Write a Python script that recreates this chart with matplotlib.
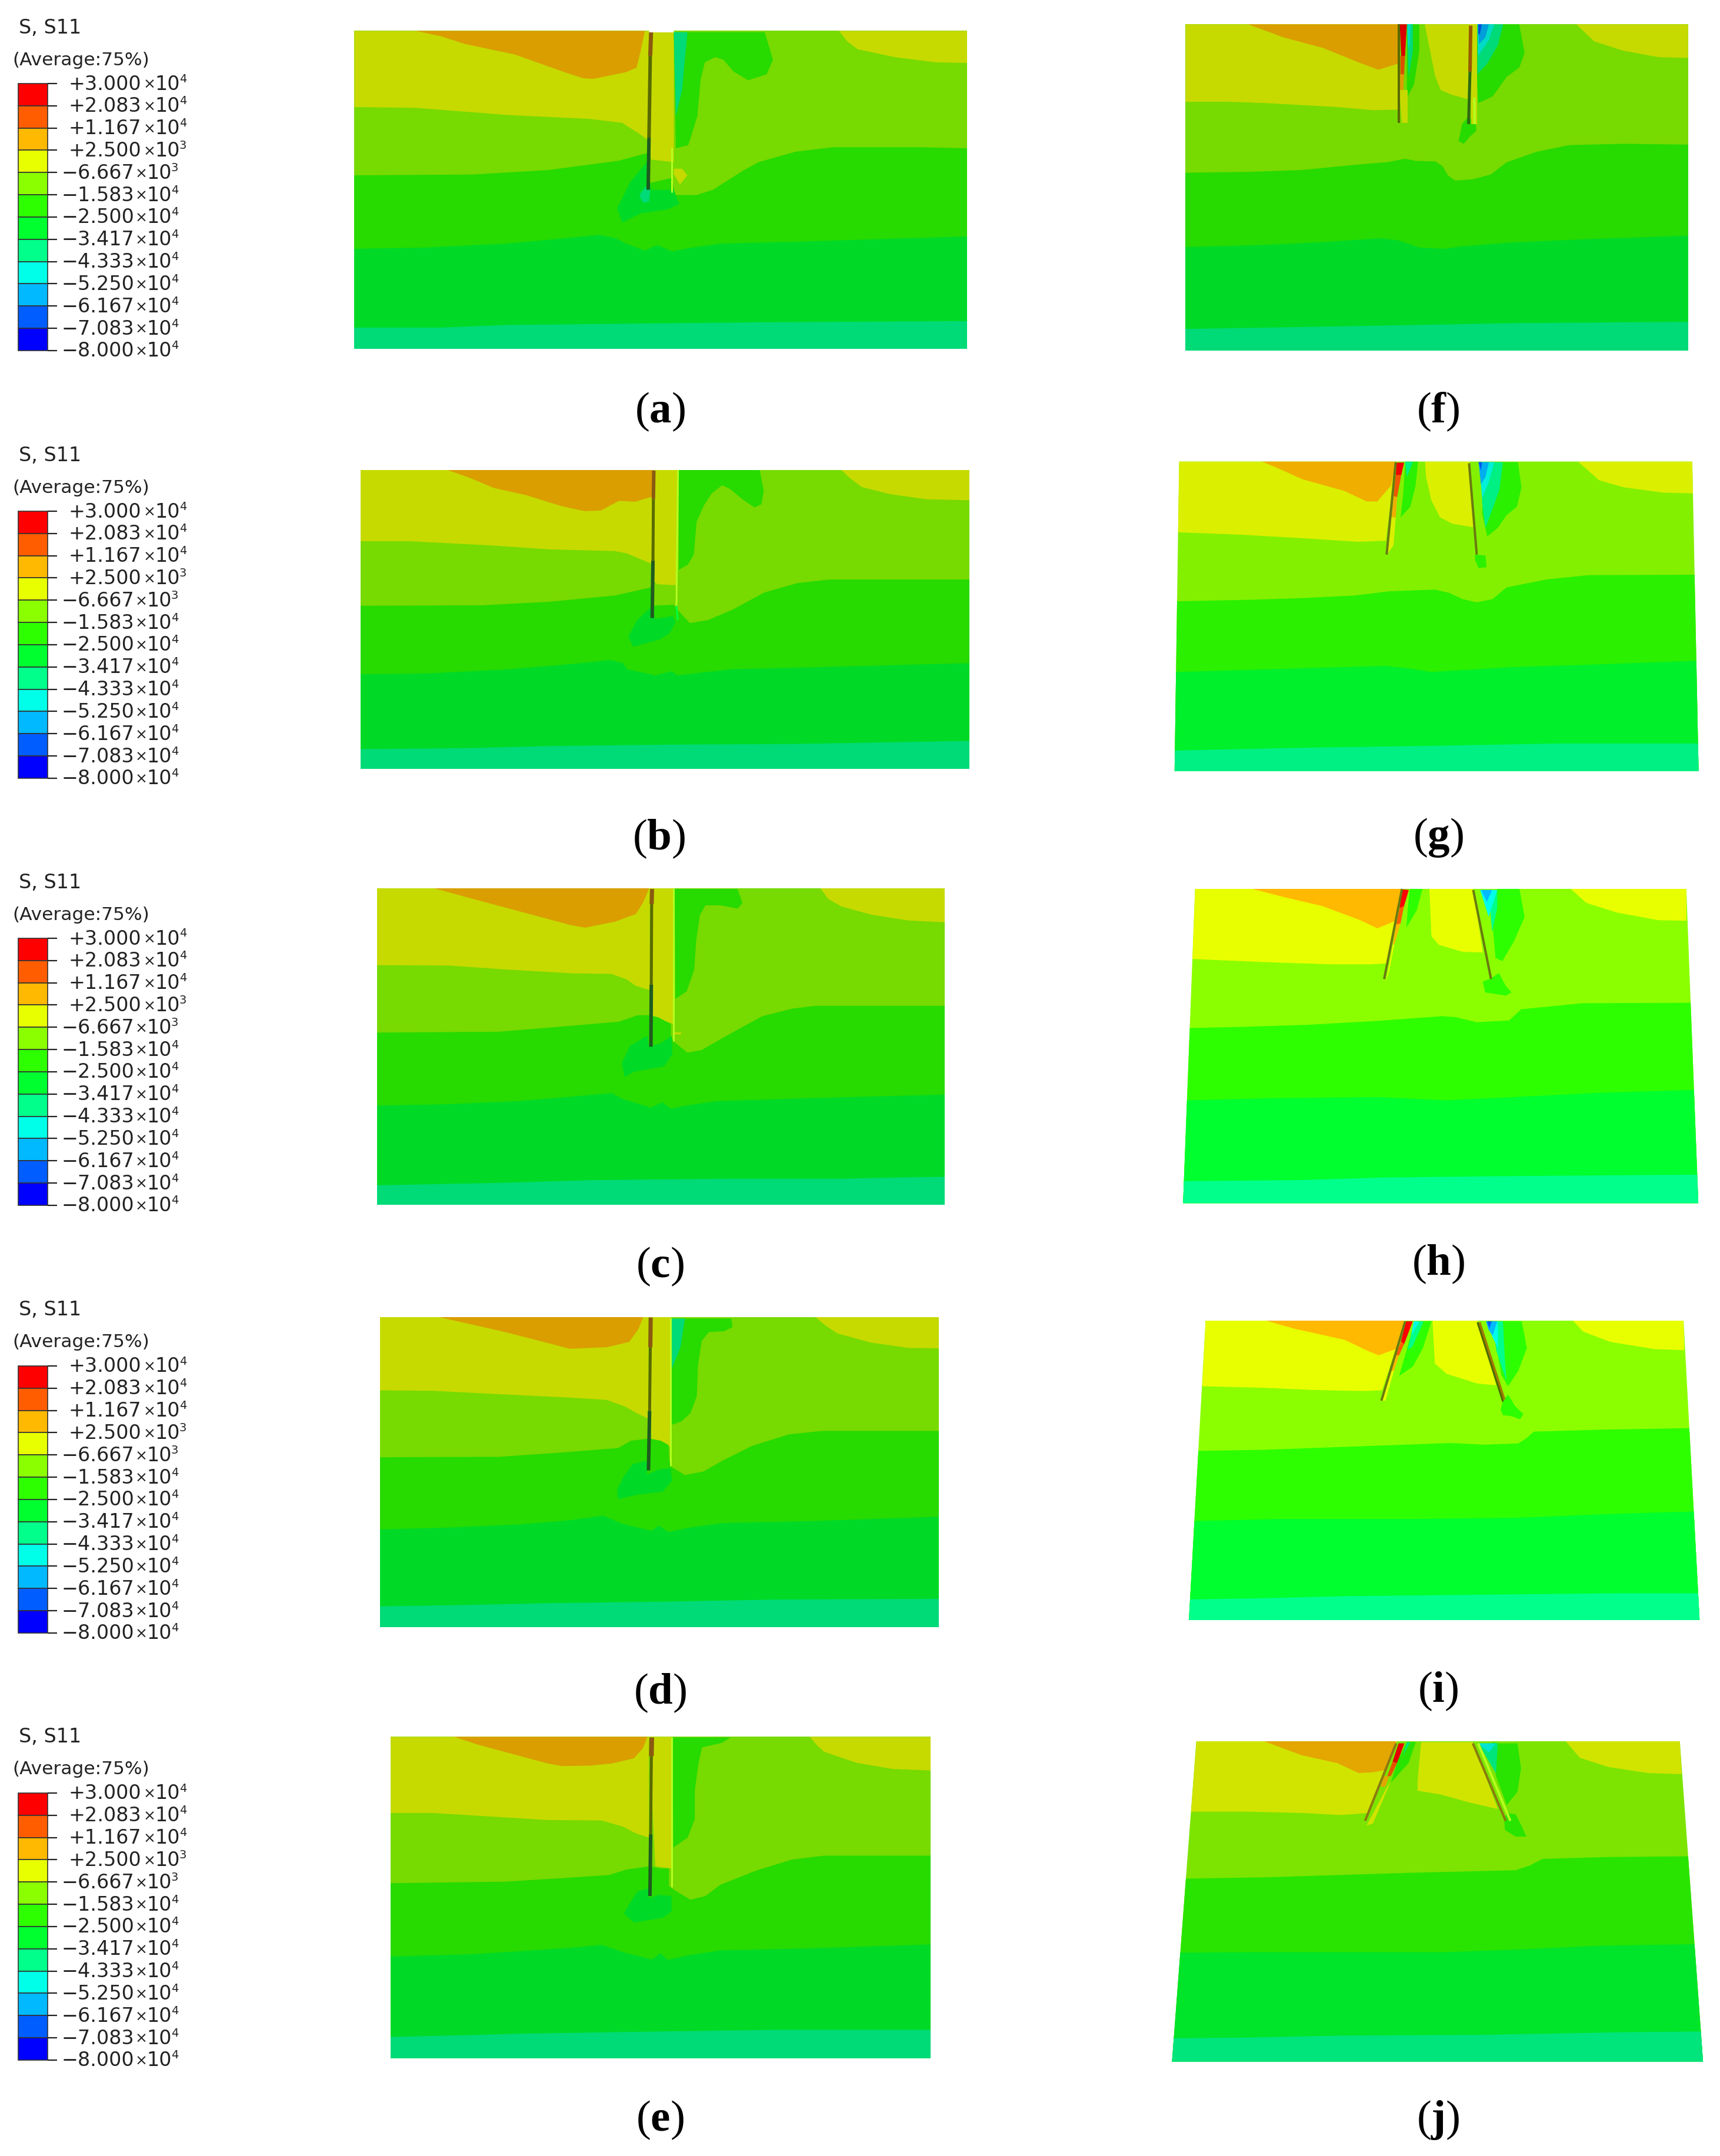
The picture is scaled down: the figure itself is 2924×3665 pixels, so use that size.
import numpy as np
import matplotlib
matplotlib.use("Agg")
import matplotlib.pyplot as plt
from matplotlib.patches import Polygon, Rectangle

plt.rcParams['mathtext.fontset'] = 'custom'
plt.rcParams['mathtext.rm'] = 'Liberation Serif'
plt.rcParams['mathtext.bf'] = 'Liberation Serif:bold'

# contour legend
LEVEL_RGB = ["#ff0000", "#ff5d00", "#ffb900", "#e8ff00", "#8bff00", "#2eff00",
             "#00ff2e", "#00ff8b", "#00ffe8", "#00b9ff", "#005dff", "#0000ff"]
LEGEND_MANT = ["+3.000", "+2.083", "+1.167", "+2.500", "\u22126.667", "\u22121.583", "\u22122.500",
               "\u22123.417", "\u22124.333", "\u22125.250", "\u22126.167", "\u22127.083", "\u22128.000"]
LEGEND_EXP = [4, 4, 4, 3, 3, 4, 4, 4, 4, 4, 4, 4, 4]
LEGEND_DY = [0, 727, 1453, 2180, 2906]

CAPTIONS = ["a", "b", "c", "d", "e", "f", "g", "h", "i", "j"]
CAPTION_X = [1122, 1120, 1122, 1122, 1122, 2445, 2445, 2445, 2445, 2445]
CAPTION_Y = [700, 1426, 2153, 2878, 3604, 700, 1424, 2149, 2875, 3604]
SHADE = [0.855, 0.855, 0.855, 0.855, 0.855, 0.855, 0.94, 1.0, 1.0, 0.895]

# contour shapes: every crop is read on a 1566 x 1568 grid
a_view = (580, 20, 1100, 700)
a_outline = [(32, 75), (1515, 75), (1515, 1285), (32, 1285)]
a_b2 = [(32, 625), (320, 622), (500, 605), (670, 570), (742, 540), (745, 655), (800, 635), (808, 700), (860, 700),
        (900, 680), (975, 605), (1010, 575), (1100, 535), (1190, 518), (1400, 518), (1515, 522)]
a_b3 = [(32, 905), (200, 900), (400, 885), (540, 865), (625, 852), (665, 865), (690, 885), (735, 912), (765, 890),
        (800, 915), (850, 900), (920, 885), (1100, 878), (1300, 868), (1515, 858)]
a_b4 = [(32, 1205), (240, 1205), (400, 1195), (700, 1190), (1000, 1185), (1515, 1180)]
a_under = [
    (3, [(32, 75), (745, 75), (742, 490), (720, 465), (680, 425), (600, 410), (400, 395), (180, 368), (32, 365)]),
    (3, [(745, 80), (805, 80), (805, 575), (750, 565), (745, 490)]),
    (2, [(180, 75), (735, 75), (725, 150), (715, 215), (690, 232), (610, 258), (585, 255), (540, 232), (420, 165),
         (300, 125), (240, 95)]),
    (3, [(1205, 75), (1515, 75), (1515, 197), (1440, 195), (1340, 175), (1250, 145), (1225, 115)]),
]
a_over = [
    (5, [(805, 80), (1025, 80), (1045, 185), (1030, 240), (985, 263), (950, 230), (925, 185), (905, 175), (880, 195),
         (870, 260), (862, 400), (840, 510), (810, 522)]),
    (7, [(805, 80), (838, 80), (825, 300), (810, 400)]),
    (6, [(742, 570), (700, 650), (668, 750), (680, 805), (725, 770), (790, 755), (818, 735), (805, 680), (750, 680)]),
    (7, [(735, 670), (748, 680), (745, 725), (730, 730), (722, 700)]),
    (3, [(805, 600), (825, 600), (838, 625), (820, 660), (805, 620)]),
]
a_piles = [("#8a5a10", 7, [(750, 80), (748, 170)]), ("#5a6a00", 6, [(748, 170), (745, 480)]),
           ("#1f5a20", 6, [(745, 480), (743, 680)]), ("#b4ff20", 3, [(800, 520), (800, 690)]),
           ("#ffffff", 3, [(745, 77), (805, 77)])]

b_view = (592, 780, 1076, 546)
b_outline = [(30, 57), (1537, 57), (1537, 1517), (30, 1517)]
b_b2 = [(30, 720), (330, 718), (500, 700), (660, 670), (750, 630), (750, 720), (805, 715), (815, 740), (845, 805),
        (890, 790), (950, 740), (1030, 655), (1110, 610), (1190, 592), (1537, 592)]
b_b3 = [(30, 1055), (200, 1050), (400, 1030), (550, 1005), (650, 985), (680, 1000), (690, 1030), (760, 1060),
        (800, 1040), (815, 1060), (880, 1045), (950, 1030), (1200, 1018), (1537, 1000)]
b_b4 = [(30, 1420), (300, 1415), (500, 1405), (800, 1398), (1100, 1395), (1537, 1380)]
b_under = [
    (3, [(30, 57), (755, 57), (750, 515), (720, 490), (690, 465), (660, 453), (500, 445), (350, 425), (150, 405),
         (30, 405)]),
    (3, [(755, 57), (815, 57), (815, 620), (765, 615), (755, 600)]),
    (2, [(245, 57), (755, 57), (755, 185), (710, 212), (670, 208), (625, 255), (585, 258), (530, 235), (440, 180),
         (360, 145), (300, 95)]),
    (3, [(1220, 57), (1537, 57), (1537, 205), (1430, 200), (1340, 175), (1270, 140), (1240, 95)]),
]
b_over = [
    (5, [(818, 57), (1018, 57), (1028, 160), (1022, 225), (1005, 240), (975, 200), (945, 150), (925, 132), (900, 170),
         (880, 230), (862, 310), (855, 470), (840, 520), (818, 545)]),
    (6, [(750, 725), (715, 790), (693, 870), (705, 920), (770, 885), (795, 855), (810, 800), (803, 770), (760, 785)]),
]
b_piles = [("#8a5a10", 6, [(756, 60), (755, 200)]), ("#5a6a00", 5, [(755, 200), (754, 500)]),
           ("#1f5a20", 6, [(754, 500), (752, 780)]), ("#b4ff20", 3, [(816, 57), (812, 720)]),
           ("#00ff40", 3, [(812, 720), (815, 790)])]

c_view = (623, 1490, 1003, 580)
c_outline = [(28, 57), (1535, 57), (1535, 1512), (28, 1512)]
c_b2 = [(28, 720), (350, 716), (500, 695), (670, 670), (720, 640), (752, 640), (775, 650), (808, 680), (808, 735),
        (815, 760), (852, 812), (890, 800), (950, 740), (1050, 645), (1130, 610), (1190, 597), (1535, 597)]
c_b3 = [(28, 1055), (200, 1050), (400, 1035), (540, 1015), (650, 998), (680, 1025), (755, 1065), (785, 1040),
        (808, 1070), (850, 1055), (930, 1035), (1200, 1020), (1535, 1005)]
c_b4 = [(28, 1422), (370, 1410), (600, 1398), (950, 1392), (1250, 1392), (1440, 1385), (1535, 1383)]
c_under = [
    (3, [(28, 57), (752, 57), (752, 525), (715, 505), (690, 475), (650, 450), (550, 448), (370, 430), (220, 412),
         (28, 410)]),
    (3, [(752, 57), (815, 57), (815, 680), (760, 650)]),
    (2, [(180, 57), (750, 57), (735, 120), (715, 175), (660, 210), (580, 238), (540, 225), (400, 160), (260, 95)]),
    (3, [(1205, 57), (1535, 57), (1535, 213), (1440, 205), (1340, 178), (1260, 140), (1225, 105)]),
]
c_over = [
    (5, [(818, 60), (985, 60), (998, 125), (985, 150), (940, 135), (900, 135), (885, 180), (875, 300), (870, 430),
         (850, 530), (820, 565)]),
    (6, [(745, 735), (700, 780), (678, 860), (685, 925), (710, 900), (790, 875), (812, 820), (810, 735), (780, 770),
         (750, 785)]),
    (3, [(815, 718), (835, 720), (835, 728), (815, 728)]),
]
c_piles = [("#8a5a10", 7, [(758, 60), (757, 130)]), ("#5a6a00", 5, [(757, 130), (756, 500)]),
           ("#1f5a20", 6, [(756, 500), (755, 785)]), ("#b4ff20", 3, [(815, 57), (815, 760)])]

d_view = (627, 2219, 990, 566)
d_outline = [(30, 57), (1533, 57), (1533, 1517), (30, 1517)]
d_b2 = [(30, 718), (350, 716), (500, 698), (670, 675), (705, 640), (755, 630), (785, 640), (806, 660), (808, 735),
        (815, 765), (850, 802), (900, 785), (950, 735), (1030, 665), (1130, 610), (1220, 594), (1533, 594)]
d_b3 = [(30, 1058), (200, 1050), (400, 1035), (540, 1015), (630, 993), (680, 1030), (760, 1065), (780, 1040),
        (805, 1070), (860, 1050), (950, 1028), (1200, 1018), (1533, 998)]
d_b4 = [(30, 1420), (230, 1415), (500, 1405), (800, 1398), (1100, 1388), (1533, 1385)]
d_under = [
    (3, [(30, 57), (752, 57), (752, 537), (720, 510), (690, 480), (640, 448), (540, 437), (340, 420), (170, 405),
         (30, 403)]),
    (3, [(752, 57), (812, 57), (812, 670), (760, 640)]),
    (2, [(185, 57), (738, 57), (725, 115), (700, 175), (640, 200), (540, 207), (470, 175), (370, 130), (270, 90)]),
    (3, [(1200, 57), (1533, 57), (1533, 205), (1450, 203), (1350, 178), (1260, 135), (1230, 100)]),
]
d_over = [
    (5, [(812, 65), (975, 65), (978, 105), (955, 125), (915, 128), (895, 170), (885, 290), (882, 430), (865, 510),
         (840, 550), (815, 565)]),
    (7, [(812, 65), (850, 65), (838, 200), (815, 300)]),
    (6, [(748, 735), (710, 750), (685, 810), (668, 870), (670, 915), (720, 895), (790, 880), (815, 830), (812, 770),
         (780, 775), (748, 800)]),
]
d_piles = [("#8a5a10", 7, [(758, 60), (757, 200)]), ("#5a6a00", 5, [(757, 200), (755, 500)]),
           ("#1f5a20", 6, [(755, 500), (752, 780)]), ("#b4ff20", 3, [(812, 60), (812, 760)])]

e_view = (644, 2932, 956, 587)
e_outline = [(33, 57), (1537, 57), (1537, 1517), (33, 1517)]
e_b2 = [(33, 722), (350, 715), (500, 700), (640, 685), (690, 660), (755, 645), (785, 655), (808, 655), (808, 735),
        (825, 755), (868, 797), (910, 780), (950, 730), (1050, 665), (1150, 615), (1240, 597), (1537, 597)]
e_b3 = [(33, 1055), (250, 1045), (400, 1030), (540, 1015), (620, 1002), (680, 1035), (760, 1068), (785, 1040),
        (805, 1070), (860, 1050), (950, 1027), (1200, 1018), (1537, 1000)]
e_b4 = [(33, 1420), (250, 1412), (400, 1405), (800, 1395), (1100, 1388), (1537, 1388)]
e_under = [
    (3, [(33, 57), (752, 57), (752, 515), (715, 495), (680, 465), (620, 437), (470, 435), (300, 418), (150, 403),
         (33, 403)]),
    (3, [(752, 57), (815, 57), (815, 655), (770, 645)]),
    (2, [(210, 57), (748, 57), (735, 110), (710, 155), (650, 178), (590, 188), (510, 190), (470, 178), (360, 130),
         (270, 90)]),
    (3, [(1200, 57), (1537, 57), (1537, 210), (1430, 203), (1330, 175), (1240, 125), (1220, 95)]),
]
e_over = [
    (5, [(818, 60), (980, 60), (955, 85), (900, 105), (890, 180), (880, 300), (880, 430), (860, 515), (820, 560)]),
    (6, [(752, 745), (720, 760), (700, 810), (683, 860), (710, 900), (790, 880), (815, 850), (815, 780), (780, 775),
         (752, 790)]),
]
e_piles = [("#8a5a10", 8, [(760, 60), (759, 145)]), ("#5a6a00", 5, [(759, 145), (757, 500)]),
           ("#1f5a20", 6, [(757, 500), (755, 780)]), ("#b4ff20", 3, [(815, 60), (815, 740)])]

f_view = (1970, 20, 950, 700)
f_outline = [(75, 50), (1483, 50), (1483, 1293), (75, 1293)]
f_b2 = [(75, 615), (250, 612), (400, 605), (550, 585), (640, 575), (690, 562), (720, 570), (775, 572), (795, 590),
        (810, 625), (830, 645), (880, 640), (930, 622), (975, 575), (1060, 535), (1150, 510), (1300, 505), (1483, 508)]
f_b3 = [(75, 898), (300, 890), (450, 880), (620, 865), (670, 872), (730, 900), (800, 905), (850, 895), (1000, 880),
        (1200, 868), (1483, 855)]
f_b4 = [(75, 1210), (300, 1205), (600, 1198), (1000, 1188), (1483, 1183)]
f_under = [
    (3, [(75, 50), (670, 50), (670, 375), (600, 377), (500, 365), (300, 350), (200, 345), (75, 345)]),
    (2, [(250, 50), (670, 50), (670, 200), (615, 223), (560, 195), (460, 140), (350, 100)]),
    (3, [(745, 50), (870, 50), (866, 335), (820, 318), (790, 300), (775, 250), (760, 150)]),
    (3, [(1170, 50), (1483, 50), (1483, 178), (1400, 175), (1300, 150), (1220, 115)]),
]
f_over = [
    (5, [(695, 50), (730, 50), (730, 150), (715, 280), (695, 330)]),
    (7, [(695, 50), (712, 50), (712, 150), (700, 250)]),
    (8, [(697, 50), (706, 50), (703, 130), (699, 140)]),
    (0, [(675, 50), (695, 50), (690, 170), (680, 190)]),
    (1, [(677, 170), (690, 170), (687, 250), (677, 300)]),
    (2, [(675, 240), (687, 240), (685, 310), (675, 320)]),
    (3, [(675, 300), (697, 300), (697, 425), (680, 425)]),
    (5, [(890, 50), (1010, 50), (1025, 160), (1010, 215), (975, 250), (935, 325), (895, 350), (890, 200)]),
    (7, [(893, 50), (965, 50), (950, 130), (920, 200), (893, 240)]),
    (8, [(893, 50), (940, 50), (925, 110), (895, 170)]),
    (9, [(895, 50), (925, 50), (915, 100), (897, 125)]),
    (10, [(895, 50), (905, 50), (900, 85), (895, 90)]),
    (5, [(868, 400), (850, 430), (840, 495), (855, 505), (870, 480), (890, 455), (888, 430)]),
    (3, [(870, 50), (892, 50), (892, 430), (875, 430)]),
]
f_piles = [("#5a6a00", 4, [(672, 50), (672, 425)]), ("#9a5a00", 6, [(874, 55), (872, 230)]),
           ("#2f6a10", 5, [(872, 230), (868, 430)]), ("#b4ff20", 4, [(884, 330), (885, 430)])]

g_view = (1976, 765, 930, 566)
g_outline = [(48, 57), (1517, 57), (1535, 1515), (35, 1515)]
g_b2 = [(44, 715), (250, 708), (400, 700), (550, 688), (650, 668), (780, 660), (820, 675), (860, 705), (900, 720),
        (945, 705), (985, 650), (1100, 612), (1220, 592), (1522, 590)]
g_b3 = [(40, 1048), (250, 1038), (450, 1028), (640, 1020), (700, 1030), (770, 1048), (850, 1040), (1000, 1025),
        (1200, 1015), (1528, 995)]
g_b4 = [(35, 1418), (200, 1412), (400, 1405), (800, 1395), (1130, 1385), (1530, 1385)]
g_under = [
    (3, [(48, 57), (668, 57), (640, 430), (560, 435), (420, 420), (230, 402), (44, 390)]),
    (2, [(285, 57), (668, 57), (655, 170), (615, 245), (585, 245), (520, 195), (400, 140), (340, 95)]),
    (3, [(752, 57), (880, 57), (892, 367), (830, 350), (795, 320), (770, 240), (755, 130)]),
    (3, [(1190, 57), (1517, 57), (1520, 207), (1430, 203), (1320, 178), (1250, 145)]),
]
g_over = [
    (0, [(670, 62), (692, 62), (684, 120), (668, 140)]),
    (1, [(668, 120), (684, 120), (672, 225), (662, 220)]),
    (2, [(662, 220), (672, 225), (668, 320), (655, 320)]),
    (3, [(655, 320), (668, 320), (662, 450), (645, 490)]),
    (5, [(695, 57), (732, 57), (725, 170), (710, 270), (682, 320), (690, 200)]),
    (7, [(695, 57), (718, 57), (700, 130)]),
    (5, [(925, 60), (1018, 60), (1028, 180), (1015, 270), (985, 310), (960, 370), (930, 410), (915, 300)]),
    (7, [(915, 60), (975, 60), (965, 190), (945, 280), (925, 370), (915, 250)]),
    (8, [(908, 60), (950, 60), (935, 150), (915, 230)]),
    (9, [(905, 60), (935, 60), (925, 130), (912, 165)]),
    (10, [(905, 60), (915, 60), (912, 100)]),
    (5, [(895, 495), (925, 500), (928, 555), (905, 558), (895, 520)]),
]
g_piles = [("#6a7a10", 4, [(668, 60), (642, 495)]), ("#6a7a10", 4, [(878, 65), (900, 495)])]

h_view = (1992, 1490, 912, 575)
h_outline = [(68, 60), (1502, 60), (1537, 1517), (33, 1517)]
h_b2 = [(55, 705), (200, 700), (400, 690), (600, 672), (790, 650), (830, 655), (890, 678), (985, 670), (1020, 618),
        (1200, 590), (1510, 588)]
h_b3 = [(45, 1040), (300, 1030), (600, 1025), (800, 1040), (1000, 1025), (1250, 1005), (1522, 992)]
h_b4 = [(33, 1415), (370, 1410), (620, 1398), (950, 1392), (1270, 1388), (1537, 1385)]
h_under = [
    (3, [(68, 60), (672, 60), (630, 405), (580, 410), (470, 410), (370, 405), (280, 400), (130, 390), (60, 385)]),
    (2, [(235, 60), (672, 60), (650, 210), (600, 243), (550, 205), (440, 140), (320, 95)]),
    (3, [(752, 60), (880, 60), (908, 355), (850, 352), (780, 320), (758, 280)]),
    (3, [(1165, 60), (1502, 60), (1502, 208), (1420, 205), (1300, 170), (1210, 125)]),
]
h_over = [
    (0, [(672, 62), (692, 65), (678, 140), (665, 150)]),
    (1, [(665, 150), (678, 140), (668, 220), (655, 225)]),
    (2, [(655, 225), (668, 220), (650, 315), (645, 320)]),
    (3, [(645, 320), (650, 315), (635, 440), (625, 490)]),
    (5, [(695, 60), (732, 60), (715, 160), (685, 240), (690, 130)]),
    (5, [(950, 60), (1015, 60), (1030, 190), (1000, 300), (965, 395), (945, 380), (935, 200)]),
    (7, [(925, 65), (950, 65), (950, 150), (935, 260)]),
    (8, [(900, 65), (950, 65), (925, 190)]),
    (9, [(903, 65), (935, 65), (920, 120)]),
    (5, [(932, 475), (955, 450), (975, 510), (992, 540), (975, 555), (915, 540), (908, 490)]),
]
h_piles = [("#6a7a10", 4, [(672, 60), (620, 478)]), ("#6a7a10", 4, [(880, 65), (932, 478)])]

i_view = (2002, 2226, 907, 550)
i_outline = [(82, 57), (1485, 57), (1532, 1508), (33, 1508)]
i_b2 = [(62, 688), (250, 683), (500, 668), (800, 650), (900, 658), (1000, 652), (1025, 625), (1045, 595), (1250, 585),
        (1500, 578)]
i_b3 = [(50, 1028), (300, 1018), (700, 1018), (1000, 1012), (1300, 992), (1510, 982)]
i_b4 = [(35, 1408), (250, 1402), (500, 1392), (900, 1385), (1300, 1378), (1530, 1378)]
i_under = [
    (3, [(82, 57), (668, 57), (600, 395), (540, 398), (400, 393), (250, 382), (72, 375)]),
    (2, [(260, 57), (665, 57), (640, 195), (590, 225), (560, 205), (490, 150), (340, 95)]),
    (3, [(748, 57), (880, 57), (935, 370), (880, 362), (790, 315), (755, 265)]),
    (3, [(1160, 57), (1485, 57), (1487, 200), (1400, 195), (1270, 160), (1190, 110)]),
]
i_over = [
    (0, [(670, 60), (690, 60), (665, 170), (655, 160)]),
    (1, [(655, 160), (665, 170), (650, 225), (640, 225)]),
    (2, [(640, 225), (650, 225), (635, 300), (625, 300)]),
    (3, [(625, 300), (635, 300), (610, 445), (598, 445)]),
    (5, [(695, 60), (745, 60), (720, 190), (690, 280), (650, 325), (670, 210)]),
    (7, [(695, 60), (722, 60), (690, 180), (675, 200)]),
    (8, [(693, 60), (710, 60), (685, 130)]),
    (5, [(950, 60), (1010, 60), (1025, 190), (1000, 300), (970, 375), (950, 320), (935, 180)]),
    (7, [(925, 60), (955, 60), (960, 230), (965, 350), (935, 200)]),
    (8, [(905, 60), (940, 60), (940, 190), (925, 140)]),
    (9, [(905, 60), (938, 60), (925, 130), (912, 100)]),
    (10, [(908, 60), (922, 60), (915, 95)]),
    (5, [(955, 445), (970, 415), (990, 470), (1015, 510), (1005, 535), (980, 520), (955, 515), (948, 490)]),
]
i_piles = [("#6a7a10", 4, [(668, 60), (598, 445)]), ("#a07a00", 5, [(885, 65), (958, 440)]),
           ("#4a6a00", 3, [(880, 65), (955, 450)])]

j_view = (1970, 2940, 950, 700)
j_outline = [(105, 47), (1460, 47), (1525, 1267), (37, 1267)]
j_b2 = [(75, 570), (300, 565), (700, 548), (1000, 538), (1040, 520), (1075, 495), (1250, 488), (1483, 485)]
j_b3 = [(60, 852), (300, 850), (800, 850), (1000, 840), (1250, 825), (1497, 820)]
j_b4 = [(42, 1178), (250, 1175), (500, 1168), (900, 1165), (1300, 1155), (1520, 1152)]
j_under = [
    (3, [(105, 47), (668, 47), (590, 320), (510, 328), (400, 320), (250, 315), (90, 315)]),
    (2, [(295, 47), (665, 47), (640, 155), (600, 165), (560, 168), (500, 130), (400, 100)]),
    (3, [(735, 50), (880, 50), (950, 305), (870, 280), (790, 250), (725, 235), (725, 200)]),
    (3, [(1140, 47), (1460, 47), (1465, 172), (1370, 168), (1260, 145), (1180, 110)]),
]
j_over = [
    (0, [(672, 55), (688, 55), (668, 130), (655, 125)]),
    (1, [(655, 125), (668, 130), (650, 180), (640, 180)]),
    (2, [(630, 180), (645, 180), (635, 220), (622, 220)]),
    (3, [(640, 220), (650, 200), (600, 360), (582, 368)]),
    (5, [(695, 50), (720, 50), (700, 130), (650, 205), (670, 120)]),
    (7, [(695, 50), (705, 50), (685, 100)]),
    (5, [(950, 55), (1005, 55), (1015, 150), (1005, 240), (975, 290), (945, 180), (935, 50)]),
    (7, [(895, 55), (950, 55), (945, 170)]),
    (8, [(895, 55), (945, 55), (925, 90)]),
    (5, [(975, 320), (1000, 325), (1015, 365), (1030, 410), (1000, 410), (970, 385), (968, 350)]),
]
j_piles = [("#8a7a10", 4, [(665, 55), (578, 350)]), ("#8a7a10", 4, [(880, 55), (972, 350)]),
           ("#b8ff20", 4, [(895, 55), (985, 350)])]

VIEWS = [a_view, b_view, c_view, d_view, e_view, f_view, g_view, h_view, i_view, j_view]
OUTLINES = [a_outline, b_outline, c_outline, d_outline, e_outline, f_outline, g_outline, h_outline, i_outline, j_outline]
BAND2 = [a_b2, b_b2, c_b2, d_b2, e_b2, f_b2, g_b2, h_b2, i_b2, j_b2]
BAND3 = [a_b3, b_b3, c_b3, d_b3, e_b3, f_b3, g_b3, h_b3, i_b3, j_b3]
BAND4 = [a_b4, b_b4, c_b4, d_b4, e_b4, f_b4, g_b4, h_b4, i_b4, j_b4]
UNDER = [a_under, b_under, c_under, d_under, e_under, f_under, g_under, h_under, i_under, j_under]
OVER = [a_over, b_over, c_over, d_over, e_over, f_over, g_over, h_over, i_over, j_over]
PILES = [a_piles, b_piles, c_piles, d_piles, e_piles, f_piles, g_piles, h_piles, i_piles, j_piles]


def to_px(view, pts):
    # crop grid to figure pixels
    pts = np.array(pts, dtype=float)
    x = view[0] + pts[:, 0] / 1566 * view[2]
    y = view[1] + pts[:, 1] / 1568 * view[3]
    return np.column_stack([x, y])


def shaded(level, s):
    r, g, b = matplotlib.colors.to_rgb(LEVEL_RGB[level])
    return (r * s, g * s, b * s)


def draw_legend(ax, dy):
    ax.text(32, 47 + dy, "S, S11", fontsize=24, va='center', ha='left', color='#222222')
    ax.text(21, 102 + dy, "(Average:75%)", fontsize=22.5, va='center', ha='left', color='#222222')
    top = 143 + dy
    step = 37.83
    for i in range(12):
        ax.add_patch(Rectangle((31, top + i * step), 50, step, facecolor=LEVEL_RGB[i], edgecolor='#333333', lw=1.2))
    for i in range(13):
        y = top + i * step
        ax.plot([81, 97], [y, y], color='#222222', lw=1.6, solid_capstyle='butt')
        neg = LEGEND_MANT[i].startswith("\u2212")
        x0 = 104 if neg else 117
        x1 = 230 if neg else 244
        x2 = 249 if neg else 263
        ax.text(x0, y, LEGEND_MANT[i], fontsize=24, va='center', ha='left', color='#222222')
        ax.text(x1, y + 1, "\u00d7", fontsize=18, va='center', ha='left', color='#222222')
        ax.text(x2, y, "10", fontsize=24, va='center', ha='left', color='#222222')
        ax.text(x2 + 42, y - 9, str(LEGEND_EXP[i]), fontsize=14, va='center', ha='left', color='#222222')


def draw_panel(ax, k):
    view = VIEWS[k]
    s = SHADE[k]
    outline = Polygon(to_px(view, OUTLINES[k]), closed=True, facecolor=shaded(4, s), edgecolor='none')
    ax.add_patch(outline)

    def add(level, pts):
        p = Polygon(to_px(view, pts), closed=True, facecolor=shaded(level, s), edgecolor='none')
        ax.add_patch(p)
        p.set_clip_path(outline)

    for level, pts in UNDER[k]:
        add(level, pts)
    # bands go down to the bottom of the panel, the outline cuts them off
    for level, edge in zip([5, 6, 7], [BAND2[k], BAND3[k], BAND4[k]]):
        add(level, [(edge[0][0] - 100, edge[0][1])] + edge + [(edge[-1][0] + 100, edge[-1][1]), (1700, 1700), (-100, 1700)])
    for level, pts in OVER[k]:
        add(level, pts)
    for color, width, pts in PILES[k]:
        xy = to_px(view, pts)
        ax.plot(xy[:, 0], xy[:, 1], color=color, lw=width * 0.72, solid_capstyle='butt')


fig = plt.figure(figsize=(29.24, 36.66), dpi=100)
ax = fig.add_axes([0, 0, 1, 1])
ax.set_xlim(0, 2924)
ax.set_ylim(3666, 0)
ax.axis('off')

for dy in LEGEND_DY:
    draw_legend(ax, dy)

for k in range(len(VIEWS)):
    draw_panel(ax, k)
    ax.text(CAPTION_X[k], CAPTION_Y[k], "($\\mathbf{%s}$)" % CAPTIONS[k], fontsize=54, family='Liberation Serif',
            ha='center', va='center', color='black')

fig.savefig("out.png", dpi=100)
plt.close(fig)
